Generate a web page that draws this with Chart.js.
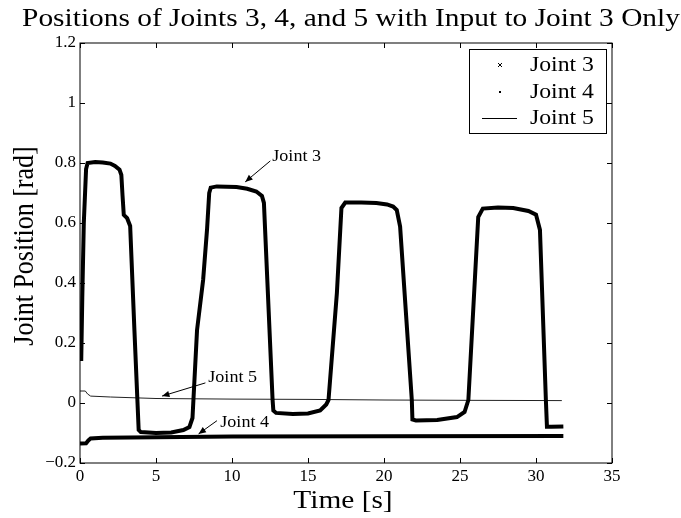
<!DOCTYPE html>
<html>
<head>
<meta charset="utf-8">
<script src="https://cdn.jsdelivr.net/npm/chart.js@4.4.0/dist/chart.umd.min.js"></script>
<style>
  body { margin: 0; background: #fff; }
  #wrap { width: 681px; height: 518px; position: relative; }
</style>
</head>
<body>
<div id="wrap"><canvas id="jointChart"></canvas></div>
<script>
// Joint 3 (x markers)
const t3 = [0.08, 0.15, 0.25, 0.4, 0.5, 1.0, 1.5, 2.0, 2.3, 2.6, 2.72, 2.8, 2.88, 3.1, 3.3, 3.58, 3.86, 4.0, 5.0, 6.0,
  6.8, 7.2, 7.4, 7.7, 8.1, 8.36, 8.5, 8.6, 9.0, 10.3, 11.0, 11.6, 11.97, 12.1, 12.67, 12.72, 12.9, 14.0, 15.0, 15.8,
  16.2, 16.35, 16.9, 17.2, 17.45, 18.5, 19.5, 20.2, 20.6, 20.84, 21.06, 21.83, 21.87, 22.1, 23.5, 24.8, 25.3, 25.55, 26.2, 26.5,
  27.5, 28.5, 29.5, 30.0, 30.26, 30.65, 30.72, 31.0, 31.8];
const j3 = [0.14, 0.35, 0.6, 0.78, 0.80, 0.803, 0.802, 0.798, 0.79, 0.778, 0.76, 0.69, 0.627, 0.616, 0.59, 0.243, -0.09, -0.097, -0.1, -0.098,
  -0.09, -0.08, -0.05, 0.243, 0.41, 0.58, 0.70, 0.718, 0.722, 0.72, 0.714, 0.705, 0.69, 0.667, 0.01, -0.025, -0.033, -0.037, -0.035, -0.025,
  -0.005, 0.01, 0.366, 0.65, 0.668, 0.668, 0.667, 0.662, 0.655, 0.643, 0.588, 0.01, -0.055, -0.058, -0.057, -0.047, -0.03, 0.01, 0.62, 0.648,
  0.652, 0.65, 0.64, 0.628, 0.577, 0.01, -0.079, -0.079, -0.078];

// Joint 4 (dot markers)
const t4 = [0, 0.4, 0.55, 0.7, 1.5, 5, 10, 20, 31.8];
const j4 = [-0.135, -0.134, -0.125, -0.118, -0.116, -0.114, -0.112, -0.111, -0.11];

// Joint 5 (solid line)
const t5 = [0, 0.35, 0.5, 0.7, 2, 5, 10, 15, 20, 25, 31.7];
const j5 = [0.04, 0.04, 0.03, 0.023, 0.02, 0.015, 0.013, 0.012, 0.01, 0.009, 0.008];

const seriesNames = ['Joint 3', 'Joint 4', 'Joint 5'];
const xTicks = [0, 5, 10, 15, 20, 25, 30, 35];
const yTicks = [-0.2, 0, 0.2, 0.4, 0.6, 0.8, 1, 1.2];

// text arrows: label, text position, arrow start, arrow tip (data units)
const notes = [
  { text: 'Joint 3', at: [12.65, 0.82], from: [12.52, 0.807], to: [10.87, 0.737] },
  { text: 'Joint 5', at: [8.44, 0.083], from: [8.25, 0.067], to: [5.4, 0.023] },
  { text: 'Joint 4', at: [9.23, -0.067], from: [9.01, -0.059], to: [7.8, -0.103] }
];

const SERIF = '"Liberation Serif", "Times New Roman", serif';
const SX = 1.13; // the original text is a bit wider than tall

function pts(xs, ys) {
  return xs.map((x, i) => ({ x: x, y: ys[i] }));
}

function wideText(ctx, text, x, y, size, align, rot) {
  ctx.save();
  ctx.translate(x, y);
  ctx.scale(SX, 1);
  if (rot) ctx.rotate(rot);
  ctx.font = size + 'px ' + SERIF;
  ctx.fillStyle = '#000';
  ctx.textAlign = align;
  ctx.textBaseline = 'middle';
  ctx.fillText(text, 0, 0);
  ctx.restore();
}

function arrow(ctx, x1, y1, x2, y2) {
  const a = Math.atan2(y2 - y1, x2 - x1);
  const len = 8, w = 0.4;
  ctx.beginPath();
  ctx.moveTo(x1, y1);
  ctx.lineTo(x2, y2);
  ctx.stroke();
  ctx.beginPath();
  ctx.moveTo(x2, y2);
  ctx.lineTo(x2 - len * Math.cos(a - w), y2 - len * Math.sin(a - w));
  ctx.lineTo(x2 - len * Math.cos(a + w), y2 - len * Math.sin(a + w));
  ctx.closePath();
  ctx.fill();
}

const decorations = {
  id: 'decorations',
  afterDraw(chart) {
    const ctx = chart.ctx;
    const a = chart.chartArea;
    const xs = chart.scales.x, ys = chart.scales.y;
    ctx.save();
    ctx.strokeStyle = '#000';
    ctx.fillStyle = '#000';
    ctx.lineWidth = 1;

    // box
    ctx.strokeRect(a.left, a.top, a.right - a.left, a.bottom - a.top);

    // inward ticks on all four sides
    const tl = 5;
    ctx.beginPath();
    xTicks.forEach(v => {
      const px = Math.round(xs.getPixelForValue(v)) + 0.5;
      ctx.moveTo(px, a.bottom); ctx.lineTo(px, a.bottom - tl);
      ctx.moveTo(px, a.top); ctx.lineTo(px, a.top + tl);
    });
    yTicks.forEach(v => {
      const py = Math.round(ys.getPixelForValue(v)) + 0.5;
      ctx.moveTo(a.left, py); ctx.lineTo(a.left + tl, py);
      ctx.moveTo(a.right, py); ctx.lineTo(a.right - tl, py);
    });
    ctx.stroke();

    // titles
    wideText(ctx, 'Positions of Joints 3, 4, and 5 with Input to Joint 3 Only', 351, 19, 26, 'center');
    wideText(ctx, 'Time [s]', 343, 501, 26, 'center');
    wideText(ctx, 'Joint Position [rad]', 25, 246, 26, 'center', -Math.PI / 2);

    // annotations
    notes.forEach(n => {
      wideText(ctx, n.text, xs.getPixelForValue(n.at[0]), ys.getPixelForValue(n.at[1]), 16, 'left');
      arrow(ctx, xs.getPixelForValue(n.from[0]), ys.getPixelForValue(n.from[1]),
        xs.getPixelForValue(n.to[0]), ys.getPixelForValue(n.to[1]));
    });

    // legend
    const lx = 469, ly = 49, lw = 137, lh = 84;
    ctx.fillStyle = '#fff';
    ctx.fillRect(lx, ly, lw, lh);
    ctx.strokeRect(lx + 0.5, ly + 0.5, lw, lh);
    ctx.fillStyle = '#000';
    const rows = [65, 92, 118];
    rows.forEach((ry, i) => wideText(ctx, seriesNames[i], 530, ry, 21, 'left'));
    ctx.beginPath();
    ctx.moveTo(498, rows[0] - 2); ctx.lineTo(502, rows[0] + 2);
    ctx.moveTo(502, rows[0] - 2); ctx.lineTo(498, rows[0] + 2);
    ctx.stroke();
    ctx.fillRect(499, rows[1] - 1, 2, 2);
    ctx.beginPath();
    ctx.moveTo(482, rows[2] + 0.5); ctx.lineTo(517, rows[2] + 0.5);
    ctx.stroke();
    ctx.restore();
  }
};

new Chart(document.getElementById('jointChart'), {
  type: 'scatter',
  data: {
    datasets: [
      {
        label: seriesNames[0],
        data: pts(t3, j3),
        showLine: true,
        borderColor: '#000',
        borderWidth: 4,
        pointRadius: 0,
        pointStyle: 'crossRot'
      },
      {
        label: seriesNames[1],
        data: pts(t4, j4),
        showLine: true,
        borderColor: '#000',
        borderWidth: 4,
        pointRadius: 0
      },
      {
        label: seriesNames[2],
        data: pts(t5, j5),
        showLine: true,
        borderColor: '#222',
        borderWidth: 1,
        pointRadius: 0
      }
    ]
  },
  options: {
    responsive: true,
    maintainAspectRatio: false,
    animation: false,
    layout: { padding: { top: 43, right: 69, left: 0, bottom: 0 } },
    plugins: {
      legend: { display: false },
      tooltip: { enabled: false }
    },
    scales: {
      x: {
        type: 'linear',
        min: 0,
        max: 35,
        afterBuildTicks: s => { s.ticks = xTicks.map(v => ({ value: v })); },
        afterFit: s => { s.height = 55; },
        grid: { display: false, drawTicks: false },
        border: { display: false },
        ticks: {
          color: '#000',
          padding: 3,
          maxRotation: 0,
          font: { family: SERIF, size: 17 }
        }
      },
      y: {
        type: 'linear',
        min: -0.2,
        max: 1.2,
        afterBuildTicks: s => { s.ticks = yTicks.map(v => ({ value: v })); },
        afterFit: s => { s.width = 80; },
        grid: { display: false, drawTicks: false },
        border: { display: false },
        ticks: {
          color: '#000',
          padding: 4,
          font: { family: SERIF, size: 17 },
          callback: v => {
            const r = Math.round(v * 10) / 10;
            return r < 0 ? '\u2212' + Math.abs(r) : String(r);
          }
        }
      }
    }
  },
  plugins: [decorations]
});
</script>
</body>
</html>
